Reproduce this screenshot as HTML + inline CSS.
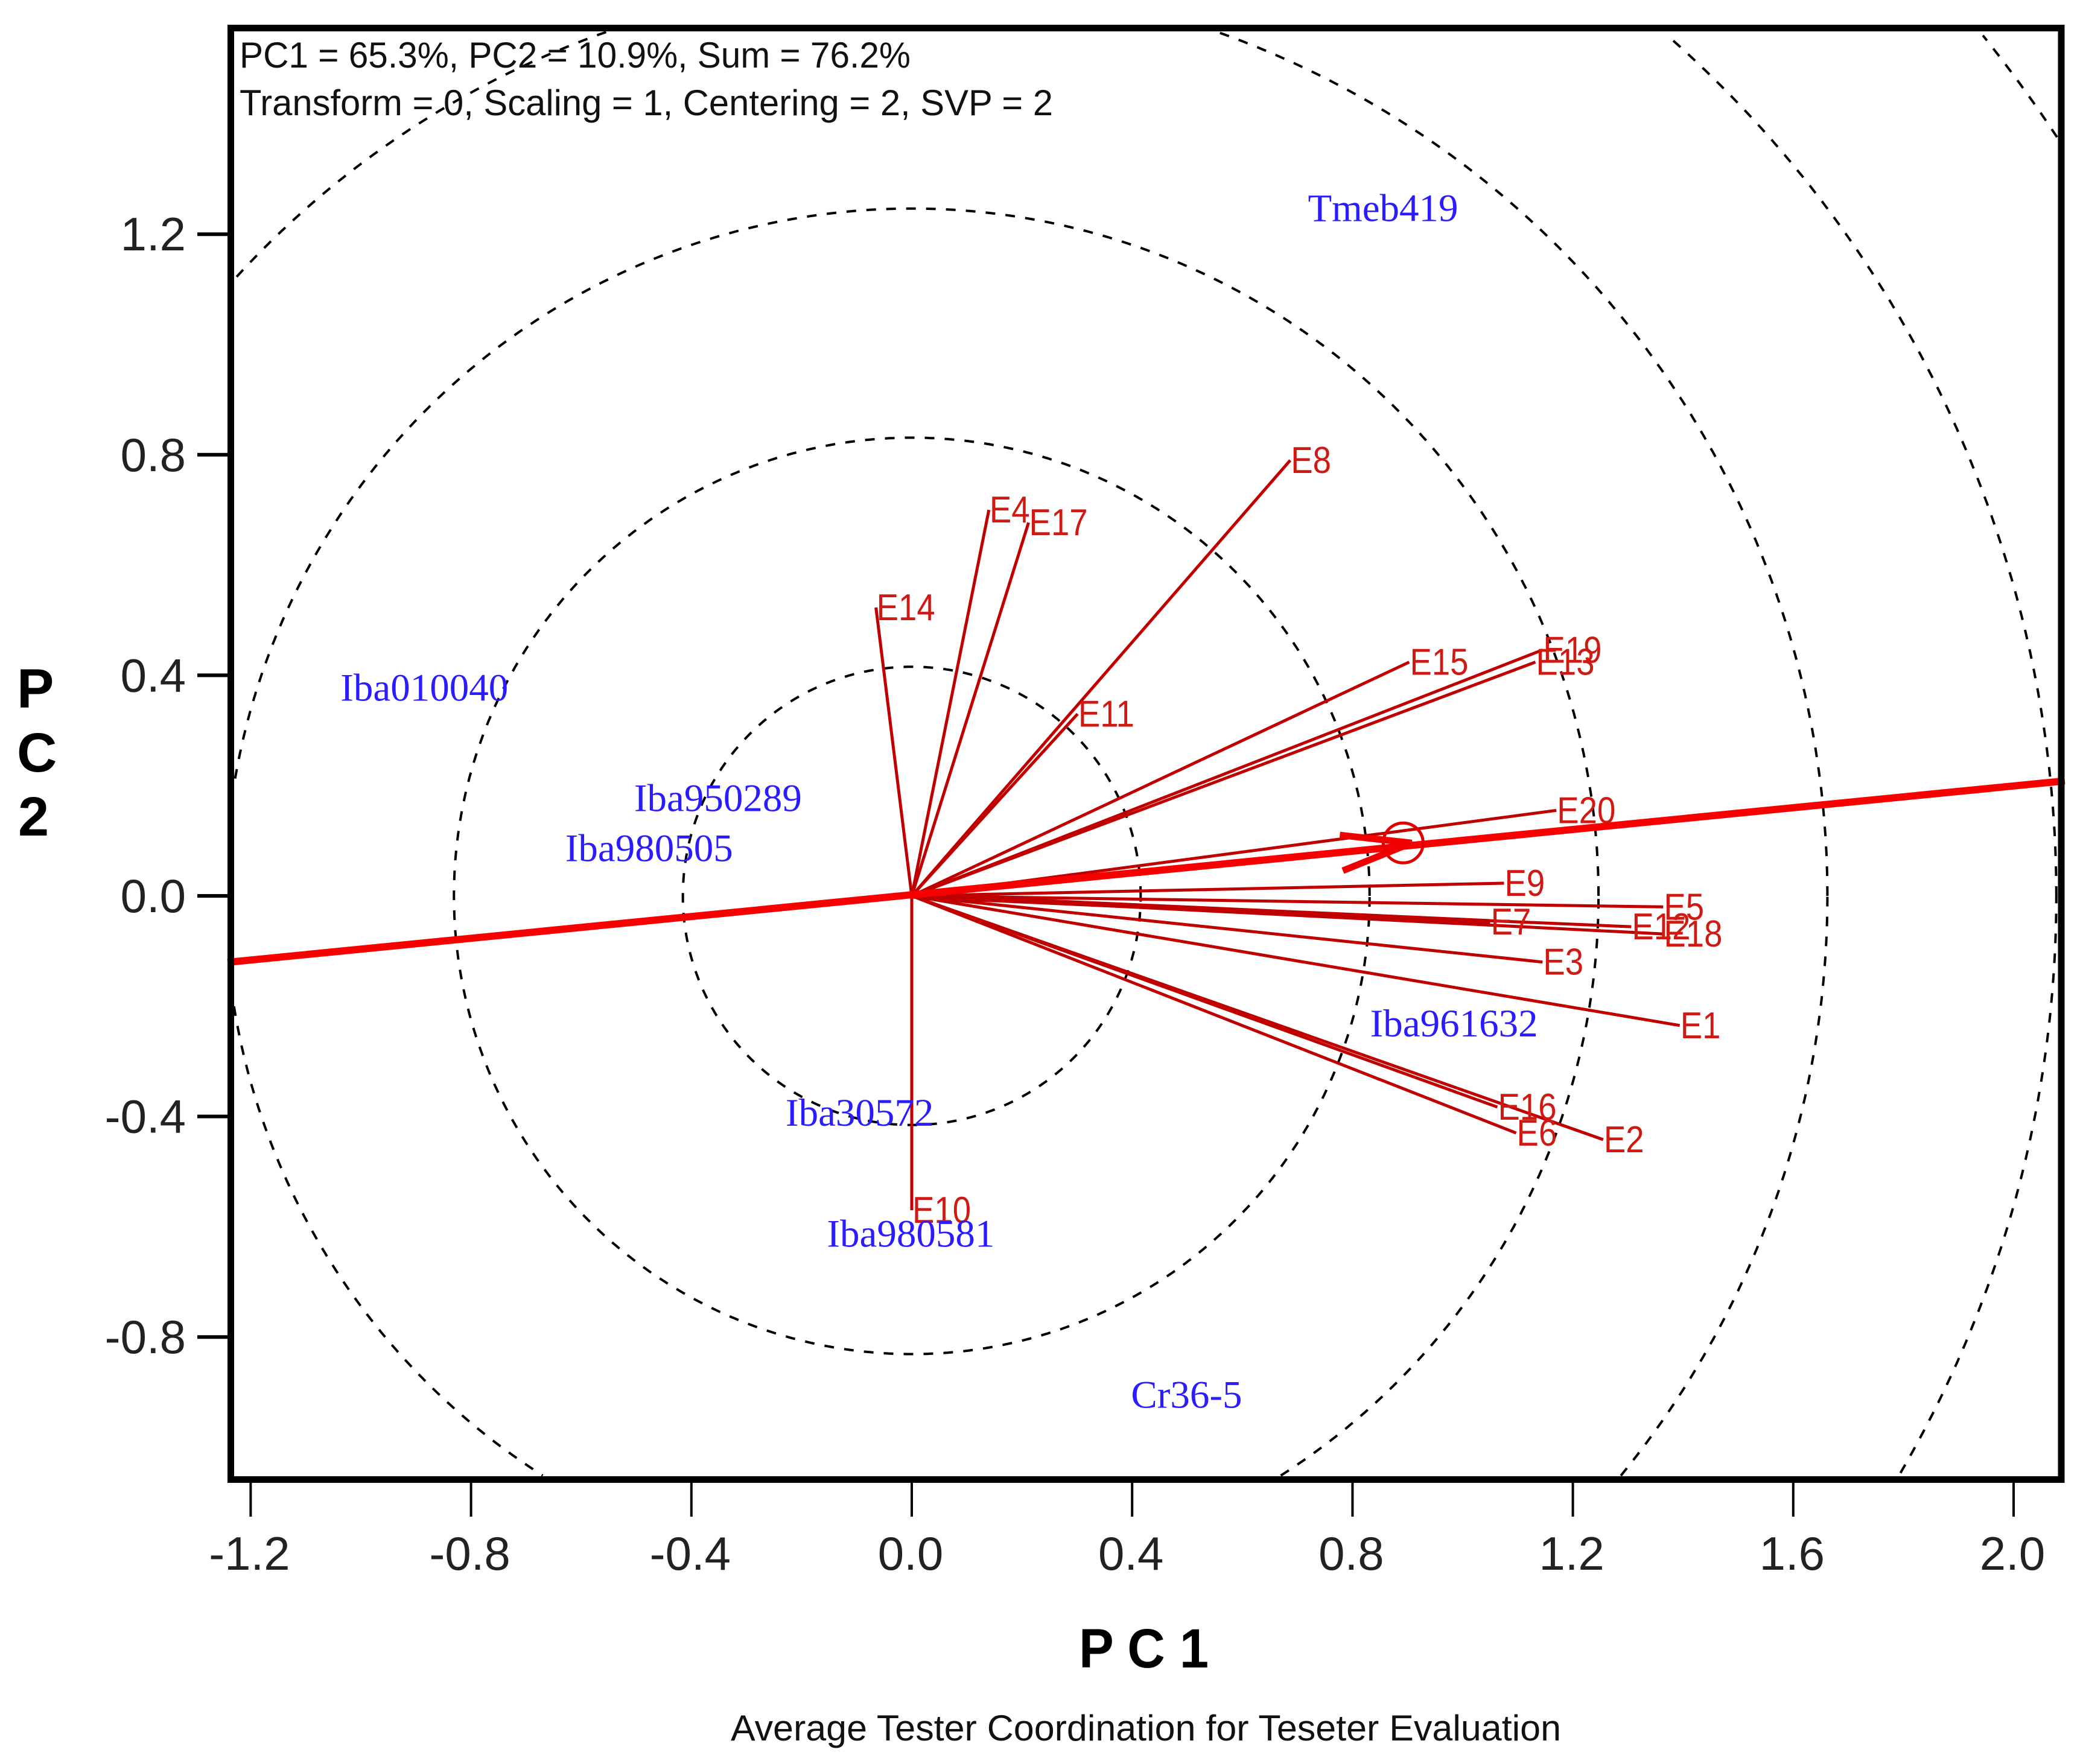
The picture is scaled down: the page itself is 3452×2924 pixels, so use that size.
<!DOCTYPE html>
<html lang="en">
<head>
<meta charset="utf-8">
<title>Average Tester Coordination biplot</title>
<style>
html,body{margin:0;padding:0;background:#fff;width:3452px;height:2924px;overflow:hidden;}
svg{display:block;overflow:hidden;}
text{font-family:"Liberation Sans",sans-serif;}
</style>
</head>
<body>
<svg id="chart" xmlns="http://www.w3.org/2000/svg" width="3452" height="2924" viewBox="0 0 3452 2924">
  <rect x="0" y="0" width="3452" height="2924" fill="#fff"/>
  <g id="rings"></g>
  <g id="vectors"></g>
  <g id="aec"></g>
  <g id="env-labels"></g>
  <g id="gen-labels"></g>
  <rect x="382.5" y="46.5" width="3033.5" height="2406" fill="none" stroke="#000" stroke-width="11"/>
  <g id="x-axis"></g>
  <g id="y-axis"></g>
  <text x="397" y="112" font-size="60" fill="#111" textLength="1112" lengthAdjust="spacingAndGlyphs">PC1 = 65.3%, PC2 = 10.9%, Sum = 76.2%</text>
  <text x="397" y="191" font-size="60" fill="#111" textLength="1348" lengthAdjust="spacingAndGlyphs">Transform = 0, Scaling = 1, Centering = 2, SVP = 2</text>
  <text x="1788" y="2764" font-size="92" font-weight="bold" fill="#000" textLength="215" lengthAdjust="spacingAndGlyphs">P C 1</text>
  <g font-size="92" font-weight="bold" fill="#000">
    <text x="28" y="1173">P</text>
    <text x="28" y="1279">C</text>
    <text x="30" y="1385">2</text>
  </g>
  <text x="1211" y="2885" font-size="60" fill="#111" textLength="1376" lengthAdjust="spacingAndGlyphs">Average Tester Coordination for Teseter Evaluation</text>
</svg>
<script>
const envNames = ['E1','E2','E3','E4','E5','E6','E7','E8','E9','E10','E11','E12','E13','E14','E15','E16','E17','E18','E19','E20'];
const envPC1 = [1.394,1.255,1.145,0.140,1.364,1.097,1.050,0.687,1.075,0.000,0.301,1.306,1.132,-0.065,0.903,1.063,0.212,1.364,1.145,1.170];
const envPC2 = [-0.235,-0.442,-0.120,0.700,-0.020,-0.430,-0.047,0.790,0.023,-0.570,0.330,-0.056,0.424,0.523,0.424,-0.383,0.677,-0.069,0.446,0.155];
const genNames = ['Tmeb419','Iba010040','Iba950289','Iba980505','Iba961632','Iba30572','Iba980581','Cr36-5'];
const genPC1 = [0.719,-1.037,-0.504,-0.629,0.832,-0.229,-0.154,0.398];
const genPC2 = [1.248,0.378,0.178,0.087,-0.231,-0.393,-0.612,-0.904];
const ringRadii = [0.4155,0.831,1.2465,1.662,2.0775,2.493];
const xTicks = [-1.2,-0.8,-0.4,0.0,0.4,0.8,1.2,1.6,2.0];
const yTicks = [1.2,0.8,0.4,0.0,-0.4,-0.8];
const aecPC1 = [-1.242,2.093];
const aecPC2 = [-0.1205,0.2085];
const meanPC1 = [0.892];
const meanPC2 = [0.096];

const NS = 'http://www.w3.org/2000/svg';
const xScale = v => 1511 + 913 * v;
const yScale = v => 1485 - 914 * v;
const plotLeft = 387, plotRight = 3411, plotTop = 52, plotBottom = 2447;
function make(tag, parent, attrs) {
  const el = document.createElementNS(NS, tag);
  for (const k in attrs) el.setAttribute(k, attrs[k]);
  parent.appendChild(el);
  return el;
}
function ringPath(r) {
  let d = '';
  let pen = false;
  for (let a = 0; a <= 1440; a++) {
    const th = a * Math.PI / 720;
    const px = xScale(r * Math.cos(th));
    const py = yScale(r * Math.sin(th));
    const inside = px >= plotLeft && px <= plotRight && py >= plotTop && py <= plotBottom;
    if (inside) {
      d += (pen ? 'L' : 'M') + px.toFixed(1) + ' ' + py.toFixed(1);
    }
    pen = inside;
  }
  return d;
}
const ringsG = document.getElementById('rings');
ringRadii.forEach(r => {
  const el = make('path', ringsG, {d: ringPath(r), fill: 'none', stroke: '#000', 'stroke-width': 4, 'stroke-dasharray': '16 17'});
  
  
});
const vectorsG = document.getElementById('vectors');
const envLabelsG = document.getElementById('env-labels');
envNames.forEach((n, i) => {
  const px = xScale(envPC1[i]);
  const py = yScale(envPC2[i]);
  const line = make('line', vectorsG, {x1: xScale(0), y1: yScale(0), x2: px, y2: py, stroke: '#c00000', 'stroke-width': n === 'E7' ? 9 : 5});
  
  
  const t = make('text', envLabelsG, {x: px + 1, y: py + 21, 'font-size': 62, fill: '#cf1a14'});
  t.textContent = n;
  
  
  t.setAttribute('textLength', t.getComputedTextLength() * 0.88);
  t.setAttribute('lengthAdjust', 'spacingAndGlyphs');
});
const genLabelsG = document.getElementById('gen-labels');
genNames.forEach((n, i) => {
  const t = make('text', genLabelsG, {x: xScale(genPC1[i]), y: yScale(genPC2[i]) + 22, 'font-size': 65, fill: '#2a1cff', style: 'font-family:"Liberation Serif",serif'});
  t.textContent = n;
  
  
});
const aecG = document.getElementById('aec');
const aecLine = make('line', aecG, {x1: xScale(aecPC1[0]), y1: yScale(aecPC2[0]), x2: xScale(aecPC1[1]), y2: yScale(aecPC2[1]), stroke: '#f80000', 'stroke-width': 12});


const mx = xScale(meanPC1[0]);
const my = yScale(meanPC2[0]);
const meanCircle = make('circle', aecG, {cx: mx, cy: my, r: 33, fill: 'none', stroke: '#e00000', 'stroke-width': 5});


const tipX = mx + 14;
const tipY = my;
const arrow = make('path', aecG, {d: 'M' + (tipX - 119) + ' ' + (tipY - 13) + 'L' + tipX + ' ' + tipY + 'L' + (tipX - 114) + ' ' + (tipY + 46), fill: 'none', stroke: '#f00000', 'stroke-width': 11});


const xAxisG = document.getElementById('x-axis');
xTicks.forEach(v => {
  const x = xScale(v);
  const tick = make('line', xAxisG, {x1: x, y1: 2458, x2: x, y2: 2514, stroke: '#000', 'stroke-width': 4});
  
  
  const t = make('text', xAxisG, {x: x - 2, y: 2602, 'font-size': 78, 'text-anchor': 'middle', fill: '#222'});
  t.textContent = v.toFixed(1);
  
  
});
const yAxisG = document.getElementById('y-axis');
yTicks.forEach(v => {
  const y = yScale(v);
  const tick = make('line', yAxisG, {x1: 327, y1: y, x2: 378, y2: y, stroke: '#000', 'stroke-width': 6});
  
  
  const t = make('text', yAxisG, {x: 308, y: y + 27, 'font-size': 78, 'text-anchor': 'end', fill: '#222'});
  t.textContent = v.toFixed(1);
  
  
});
</script>
</body>
</html>
